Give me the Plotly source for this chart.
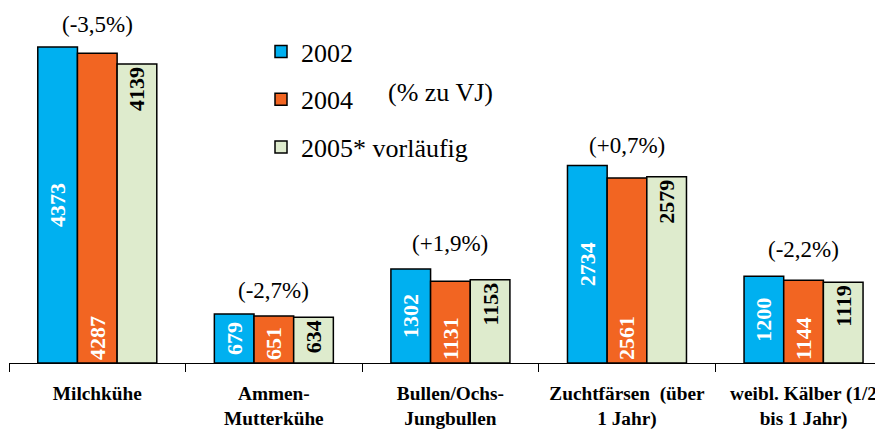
import plotly.graph_objects as go

categories = ["Milchkühe", "Ammen-<br>Mutterkühe", "Bullen/Ochs-<br>Jungbullen",
              "Zuchtfärsen  (über<br>1 Jahr)", "weibl. Kälber (1/2<br>bis 1 Jahr)"]
series_names = ["2002", "2004", "2005* vorläufig"]
values_2002 = [4373, 679, 1302, 2734, 1200]
values_2004 = [4287, 651, 1131, 2561, 1144]
values_2005 = [4139, 634, 1153, 2579, 1119]
pct_labels = ["(-3,5%)", "(-2,7%)", "(+1,9%)", "(+0,7%)", "(-2,2%)"]
pct_label_y = [4690, 1010, 1660, 3015, 1565]

colors = ["#00B0F0", "#F26522", "#DEEBCD"]
text_colors = ["white", "white", "black"]
anchors = ["middle", "start", "end"]
FONT = "Liberation Serif, Times New Roman, serif"

# page body has an 8px margin; the figure is sized so it fits the 883x432 window
W, H = 875, 424
ML, MB = 1, 69
PW, PH = W - ML, H - MB  # plot area size

fig = go.Figure()
for i, (name, vals) in enumerate(zip(series_names, [values_2002, values_2004, values_2005])):
    fig.add_trace(go.Bar(
        x=categories, y=vals, name=name,
        marker=dict(color=colors[i], line=dict(color="black", width=1.5)),
        text=vals, texttemplate="%{y}", textposition="inside",
        insidetextanchor=anchors[i], textangle=-90,
        textfont=dict(family=FONT, size=22, color=text_colors[i], weight="bold"),
        legendgroup="g%d" % i,
    ))

for i, (lab, yv) in enumerate(zip(pct_labels, pct_label_y)):
    fig.add_annotation(x=i, y=yv, xref="x", yref="y", text=lab, showarrow=False,
                       font=dict(family=FONT, size=23, color="black"),
                       xanchor="center", yanchor="middle")

fig.add_annotation(x=(432 - ML) / PW, y=(PH - 84) / PH, xref="paper", yref="paper",
                   text="(% zu VJ)", showarrow=False,
                   font=dict(family=FONT, size=26, color="black"),
                   xanchor="center", yanchor="middle")

fig.update_layout(
    width=W, height=H,
    margin=dict(l=ML, r=0, t=0, b=MB, autoexpand=False),
    paper_bgcolor="white", plot_bgcolor="white",
    barmode="group", bargap=0.326, bargroupgap=0,
    showlegend=True,
    legend=dict(xref="paper", yref="paper", x=(253 - ML) / PW, y=(PH - 20) / PH,
                xanchor="left", yanchor="top", traceorder="grouped",
                tracegroupgap=11, font=dict(family=FONT, size=26, color="black"),
                bgcolor="rgba(0,0,0,0)"),
    uniformtext=dict(minsize=22, mode="show"),
    xaxis=dict(range=[-0.5, 4.45], showline=True, linecolor="black", linewidth=1.2,
               ticks="outside", tickson="boundaries", ticklen=8, tickcolor="black",
               tickwidth=1.2, showgrid=False, tickangle=0, automargin=False,
               ticklabelstandoff=13,
               tickfont=dict(family=FONT, size=19.3, color="black", weight="bold")),
    yaxis=dict(range=[0, 4913], visible=False, showgrid=False, zeroline=False),
)

fig.write_html("out.html")
